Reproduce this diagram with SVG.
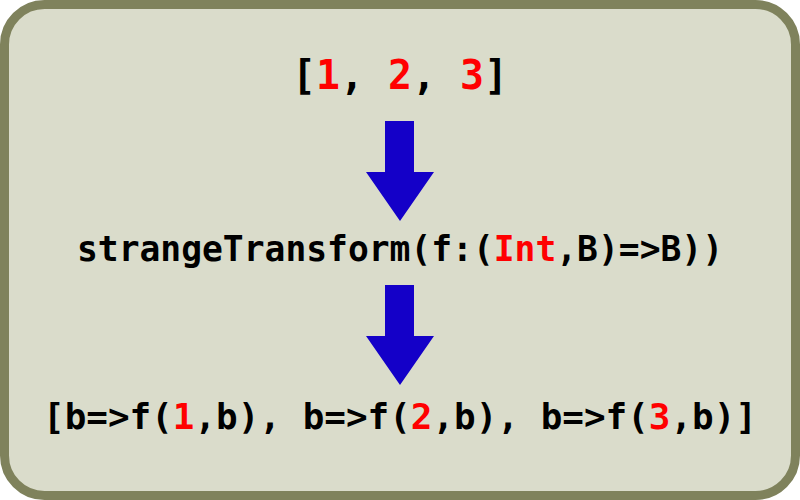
<svg xmlns="http://www.w3.org/2000/svg" width="800" height="500" viewBox="0 0 800 500">
  <style>
    .code { font-family: "DejaVu Sans Mono", "Liberation Mono", monospace; font-weight: bold; fill: #000000; }
    .num { fill: #ff0000; }
    .arrow { fill: #1400c8; }
  </style>
  <rect id="frame" x="4.5" y="4.5" width="791" height="491" rx="40" ry="40" fill="#dadccb" stroke="#7f825c" stroke-width="9"/>
  <g id="connectors">
    <polygon class="arrow" points="385,121 414,121 414,172 434,172 400,221 366,172 385,172"/>
    <polygon class="arrow" points="385,285 414,285 414,336 434,336 400,385 366,336 385,336"/>
  </g>
  <g id="node-list">
    <text class="code" x="400" y="89" font-size="40" text-anchor="middle" textLength="216" lengthAdjust="spacingAndGlyphs">[<tspan class="num">1</tspan>, <tspan class="num">2</tspan>, <tspan class="num">3</tspan>]</text>
  </g>
  <g id="node-transform">
    <text class="code" x="400" y="261" font-size="35" text-anchor="middle" textLength="646" lengthAdjust="spacingAndGlyphs">strangeTransform(f:(<tspan class="num">Int</tspan>,B)=&gt;B))</text>
  </g>
  <g id="node-result">
    <text class="code" x="400" y="429" font-size="35" text-anchor="middle" textLength="714" lengthAdjust="spacingAndGlyphs">[b=&gt;f(<tspan class="num">1</tspan>,b), b=&gt;f(<tspan class="num">2</tspan>,b), b=&gt;f(<tspan class="num">3</tspan>,b)]</text>
  </g>
</svg>
